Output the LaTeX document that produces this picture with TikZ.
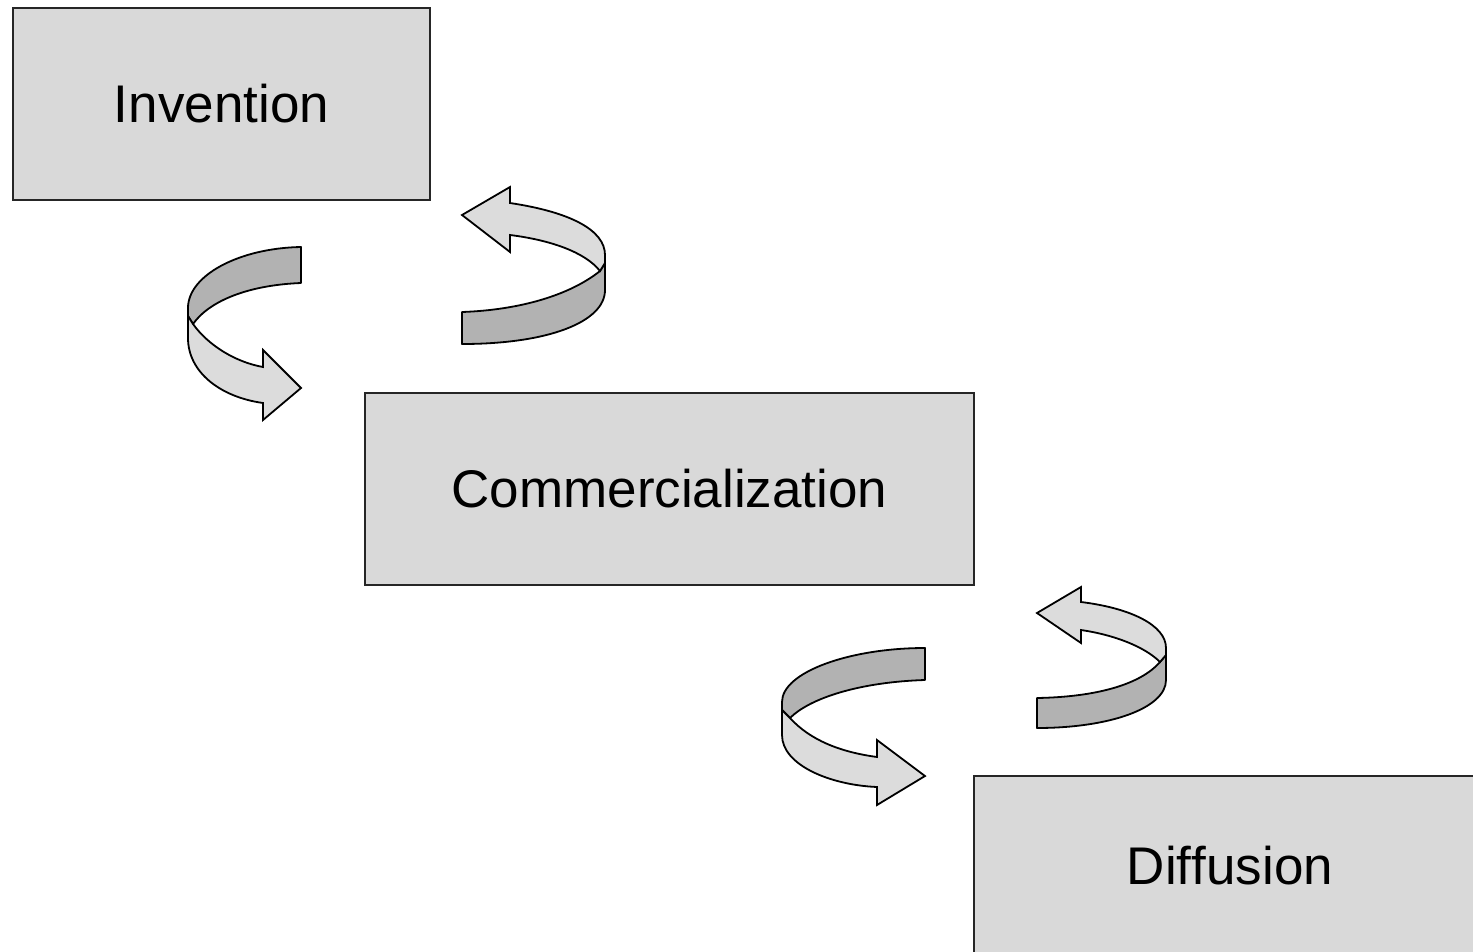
\documentclass[tikz,border=0pt]{standalone}
\usepackage{fontspec}
\setmainfont[Ligatures=NoCommon]{Liberation Sans}
\definecolor{boxgray}{HTML}{D9D9D9}
\definecolor{lightgray2}{HTML}{DCDCDC}
\definecolor{darkgray2}{HTML}{B2B2B2}
\begin{document}
\begin{tikzpicture}[x=1pt,y=-1pt,
  stagebox/.style={draw=black!85,line width=1.3pt,fill=boxgray,inner sep=0pt,
    font=\fontsize{53}{60}\selectfont},
  backband/.style={draw=black,line width=1.8pt,fill=darkgray2,line join=round},
  frontband/.style={draw=black,line width=1.8pt,fill=lightgray2,line join=miter}]
\useasboundingbox (0,0) rectangle (1473,951);
\clip (0,0) rectangle (1473,951);
% stage boxes
\node[stagebox,minimum width=417pt,minimum height=192pt] (inv) at (221.5,104) {Invention};
\node[stagebox,minimum width=609pt,minimum height=192pt] (com) at (669.5,489) {Commercialization};
\node[stagebox,minimum width=512pt,minimum height=180pt] (dif) at (1230,866) {Dif\kern0pt f\kern0pt usion};
% arrow 1 (Invention -> Commercialization)
\draw[backband] (301,247) .. controls (240,248) and (188,275) .. (188,308) -- (188,316) -- (193,324)
  .. controls (210,300) and (250,285) .. (301,283) -- cycle;
\draw[frontband] (193,324) .. controls (208,345) and (235,362) .. (263,367) -- (263,350) -- (301,388)
  -- (263,420) -- (263,403) .. controls (220,397) and (188,372) .. (188,338) -- (188,316) -- cycle;
% arrow 2 (Commercialization -> Invention)
\draw[backband] (462,312) -- (462,344) .. controls (548,344) and (605,322) .. (605,290) -- (605,263)
  -- (600,271) .. controls (570,295) and (520,310) .. (462,312) -- cycle;
\draw[frontband] (510,203) -- (510,187) -- (462,215) -- (510,252) -- (510,235)
  .. controls (550,240) and (585,252) .. (600,271) -- (605,263) -- (605,255)
  .. controls (605,230) and (570,212) .. (510,203) -- cycle;
% arrow 3 (Commercialization -> Diffusion)
\draw[backband] (925,648) .. controls (850,648) and (782,672) .. (782,702) -- (782,710) -- (790,718)
  .. controls (810,698) and (860,682) .. (925,680) -- cycle;
\draw[frontband] (790,718) .. controls (810,740) and (840,752) .. (877,757) -- (877,740) -- (925,776)
  -- (877,805) -- (877,787) .. controls (830,785) and (782,765) .. (782,735) -- (782,710) -- cycle;
% arrow 4 (Diffusion -> Commercialization)
\draw[backband] (1037,698) -- (1037,728) .. controls (1110,728) and (1166,708) .. (1166,680) -- (1166,655)
  -- (1160,662) .. controls (1140,685) and (1095,697) .. (1037,698) -- cycle;
\draw[frontband] (1081,602) -- (1081,587) -- (1037,613) -- (1081,643) -- (1081,630)
  .. controls (1115,635) and (1145,647) .. (1160,662) -- (1166,655) -- (1166,648)
  .. controls (1166,625) and (1130,608) .. (1081,602) -- cycle;
\end{tikzpicture}
\end{document}
